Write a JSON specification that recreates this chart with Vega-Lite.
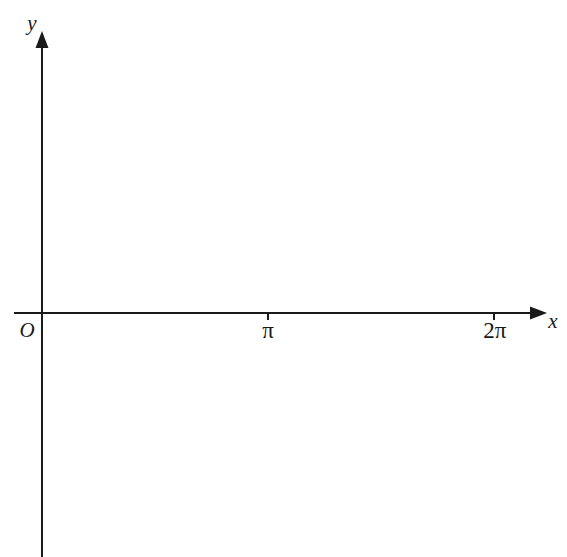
{
  "$schema": "https://vega.github.io/schema/vega-lite/v6.json",
  "description": "Blank axes for a trig graph, 0 to 2pi",
  "width": 567,
  "height": 557,
  "autosize": {"type": "none"},
  "padding": 0,
  "background": "white",
  "config": {"view": {"stroke": null}},
  "datasets": {
    "lines": [
      {"x1": -0.1239, "x2": 2.168, "y1": 0, "y2": 0},
      {"x1": 0, "x2": 0, "y1": 268, "y2": -244},
      {"x1": 1, "x2": 1, "y1": 0, "y2": -7},
      {"x1": 2, "x2": 2, "y1": 0, "y2": -7}
    ],
    "arrows": [
      {"x": 2.197, "y": 0, "dir": "right"},
      {"x": 0, "y": 273.5, "dir": "up"}
    ],
    "italicLabels": [
      {"x": -0.0664, "y": -24, "label": "O"},
      {"x": 2.261, "y": -15, "label": "x"},
      {"x": -0.0442, "y": 283, "label": "y"}
    ],
    "piLabels": [
      {"x": 1, "y": -25, "label": "π"},
      {"x": 2.004, "y": -25, "label": "2π"}
    ]
  },
  "encoding": {
    "x": {"type": "quantitative", "scale": {"domain": [-0.1858, 2.323], "nice": false, "zero": false}, "axis": null},
    "y": {"type": "quantitative", "scale": {"domain": [-244, 313], "nice": false, "zero": false}, "axis": null}
  },
  "layer": [
    {
      "data": {"name": "lines"},
      "mark": {"type": "rule", "color": "#1a1a1a", "strokeWidth": 2},
      "encoding": {
        "x": {"field": "x1", "type": "quantitative"},
        "x2": {"field": "x2"},
        "y": {"field": "y1", "type": "quantitative"},
        "y2": {"field": "y2"}
      }
    },
    {
      "data": {"name": "arrows"},
      "mark": {"type": "point", "filled": true, "color": "#1a1a1a", "opacity": 1, "size": 289},
      "encoding": {
        "x": {"field": "x", "type": "quantitative"},
        "y": {"field": "y", "type": "quantitative"},
        "shape": {
          "field": "dir",
          "type": "nominal",
          "scale": {"domain": ["right", "up"], "range": ["M-1,-0.76L1,0L-1,0.76Z", "M-0.76,1L0,-1L0.76,1Z"]},
          "legend": null
        }
      }
    },
    {
      "data": {"name": "italicLabels"},
      "mark": {"type": "text", "font": "Liberation Serif", "fontSize": 21, "fontStyle": "italic", "color": "#1a1a1a", "align": "center", "baseline": "alphabetic"},
      "encoding": {
        "x": {"field": "x", "type": "quantitative"},
        "y": {"field": "y", "type": "quantitative"},
        "text": {"field": "label"}
      }
    },
    {
      "data": {"name": "piLabels"},
      "mark": {"type": "text", "font": "Liberation Serif", "fontSize": 23, "color": "#1a1a1a", "align": "center", "baseline": "alphabetic"},
      "encoding": {
        "x": {"field": "x", "type": "quantitative"},
        "y": {"field": "y", "type": "quantitative"},
        "text": {"field": "label"}
      }
    }
  ]
}
